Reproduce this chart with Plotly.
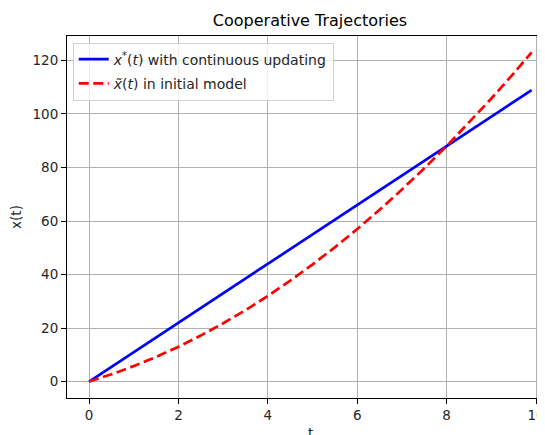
import plotly.graph_objects as go

# Data
t_cont = [0.0, 2.0, 4.0, 6.0, 8.0, 9.9]
x_cont = [0.0, 22.0, 44.0, 66.0, 88.0, 108.9]

t_init = [0.0, 0.5, 1.0, 1.5, 2.0, 2.5, 3.0, 3.5, 4.0, 4.5, 5.0, 5.5,
          6.0, 6.5, 7.0, 7.5, 8.0, 8.5, 9.0, 9.5, 9.9]
x_init = [0.0, 2.7, 5.8, 9.2, 13.0, 17.2, 21.8, 26.7, 32.0, 37.7, 43.8, 50.2,
          57.0, 64.2, 71.8, 79.7, 88.0, 96.7, 105.8, 115.2, 123.0]

x_ticks = [0, 2, 4, 6, 8, 10]
y_ticks = [0, 20, 40, 60, 80, 100, 120]

FONT = "DejaVu Sans"
W, H = 537, 427  # page body adds an 8px offset

fig = go.Figure()
fig.add_trace(go.Scatter(
    x=t_cont, y=x_cont, mode="lines", legendgroup="a",
    name="<i>x</i><sup>*</sup>(<i>t</i>) with continuous updating",
    line=dict(color="#0000ff", width=2.7),
))
fig.add_trace(go.Scatter(
    x=t_init, y=x_init, mode="lines", legendgroup="b",
    name="<i>x\u0303</i>(<i>t</i>) in initial model",
    line=dict(color="#ff0000", width=2.7, dash="10px,4.5px"),
))

fig.update_layout(
    width=W, height=H,
    margin=dict(l=59, r=0, t=28, b=37, autoexpand=False),
    paper_bgcolor="white", plot_bgcolor="white",
    font=dict(family=FONT, size=13.5, color="#262626"),
    title=dict(text="Cooperative Trajectories", x=302 / W, xanchor="center",
               y=1 - 12 / H, yanchor="middle",
               font=dict(family=FONT, size=16, color="black")),
    showlegend=True,
    legend=dict(x=0.012, y=0.982, xanchor="left", yanchor="top",
                bgcolor="rgba(255,255,255,0.8)", bordercolor="#d0d0d0", borderwidth=1,
                font=dict(family=FONT, size=14, color="#262626"),
                tracegroupgap=3, itemwidth=30),
    annotations=[dict(text="t", xref="paper", yref="paper", x=(302 - 59) / 478,
                      y=-(425 - 390) / 362, xanchor="center", yanchor="middle",
                      showarrow=False, font=dict(family=FONT, size=13.5, color="#262626"))],
)

fig.update_xaxes(
    range=[-0.495, 10.2], tickvals=x_ticks, ticktext=[str(v) for v in x_ticks],
    showgrid=True, gridcolor="#b0b0b0", gridwidth=1.1,
    zeroline=False, showline=True, linecolor="black", linewidth=1.1, mirror=True,
    ticks="outside", ticklen=5, tickwidth=1.1, tickcolor="black",
    automargin=False,
)
fig.update_yaxes(
    range=[-6.15, 129.15], tickvals=y_ticks, ticktext=[str(v) for v in y_ticks],
    showgrid=True, gridcolor="#b0b0b0", gridwidth=1.1,
    zeroline=False, showline=True, linecolor="black", linewidth=1.1, mirror=False,
    ticks="outside", ticklen=5, tickwidth=1.1, tickcolor="black",
    title=dict(text="x(t)", standoff=14, font=dict(family=FONT, size=13.5)),
    automargin=False,
)

fig.write_html("out.html")
